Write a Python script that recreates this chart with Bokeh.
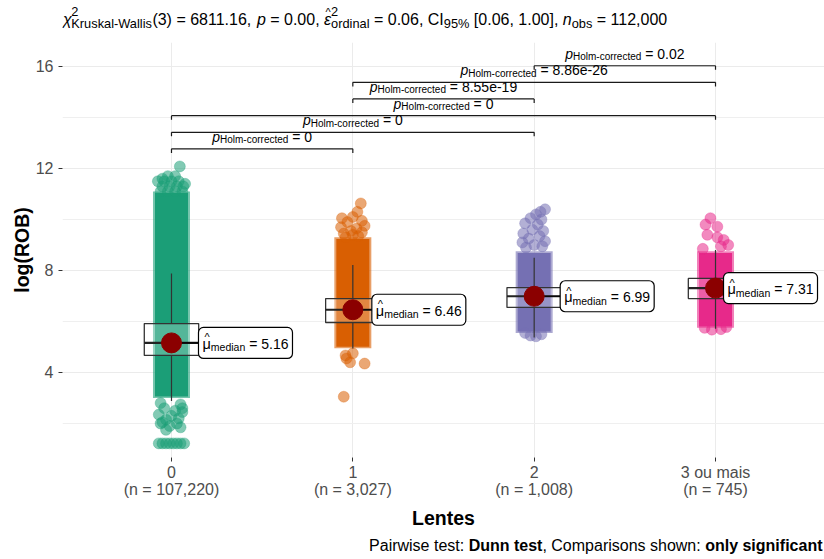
from bokeh.plotting import figure
from bokeh.layouts import column
from bokeh.models import Label, FixedTicker
from bokeh.embed import file_html
from bokeh.resources import INLINE

# ---------------- data ----------------
groups = ["0", "1", "2", "3 ou mais"]
n_obs = ["107,220", "3,027", "1,008", "745"]
colors = ["#1B9E77", "#D95F02", "#7570B3", "#E7298A"]
medians = [5.16, 6.46, 6.99, 7.31]
median_txt = ["5.16", "6.46", "6.99", "7.31"]
q1 = [4.67, 5.96, 6.55, 6.90]
q3 = [5.92, 6.90, 7.33, 7.69]
whisker_lo = [2.88, 4.94, 5.37, 5.72]
whisker_hi = [7.88, 8.22, 8.50, 8.80]
dense_lo = [3.0, 4.95, 5.55, 5.75]
dense_hi = [11.1, 9.3, 8.75, 8.75]

g0_jit = [0.046, -0.06, -0.02, 0.02, 0.06, -0.05, -0.01, 0.03, 0.065, -0.075, -0.04, 0.0,
          0.04, -0.02, 0.02, -0.05, 0.075,
          -0.06, 0.05, -0.04, 0.02, 0.06, -0.07, 0.00, 0.04, -0.03, -0.05, 0.03,
          -0.01, 0.05, -0.03, 0.06, -0.06,
          -0.07, -0.05, -0.03, -0.01, 0.01, 0.03, 0.05, 0.07]
g0_y = [12.08, 11.1, 11.1, 11.1, 11.1, 11.3, 11.3, 11.3, 11.3, 11.5, 11.5, 11.5,
        11.5, 11.7, 11.7, 11.6, 11.4,
        2.8, 2.75, 2.6, 2.5, 2.45, 2.35, 2.3, 2.2, 2.15, 2.05, 2.0,
        1.9, 1.85, 1.75, 2.6, 2.0,
        1.22, 1.22, 1.22, 1.22, 1.22, 1.22, 1.22, 1.22]
g1_jit = [0.044, 0.025, -0.06, 0.0, 0.05, -0.03, 0.065, -0.065, 0.02, -0.01, 0.05, -0.05,
          0.03, -0.04, 0.0,
          -0.04, -0.015, 0.065, -0.035, 0.0, -0.05]
g1_y = [10.63, 10.3, 10.05, 10.1, 9.95, 9.9, 9.75, 9.7, 9.65, 9.55, 9.5, 9.45,
        9.35, 9.3, 9.4,
        4.67, 4.4, 4.35, 4.55, 4.75, 3.05]
g2_jit = [0.06, 0.035, 0.01, -0.02, 0.04, -0.05, 0.02, -0.01, 0.05, -0.06, 0.03, -0.03,
          0.06, -0.065, 0.0, 0.045, -0.045, -0.02, 0.01, 0.04, -0.05]
g2_y = [10.4, 10.3, 10.2, 10.05, 10.0, 9.85, 9.8, 9.6, 9.55, 9.45, 9.35, 9.25,
        9.15, 9.1, 9.0, 8.95, 8.9, 5.45, 5.42, 5.5, 5.55]
g3_jit = [-0.028, -0.055, 0.01, -0.045, 0.01, 0.045, 0.07, -0.07, 0.03,
          -0.06, -0.02, 0.03, 0.06]
g3_y = [10.05, 9.8, 9.72, 9.4, 9.3, 9.2, 9.0, 8.85, 8.95,
        5.75, 5.68, 5.7, 5.78]
sparse_jit = [g0_jit, g1_jit, g2_jit, g3_jit]
sparse_y = [g0_y, g1_y, g2_y, g3_y]

pair_from = [3, 2, 2, 1, 1, 1]
pair_to = [4, 4, 3, 4, 3, 2]
pair_y = [16.03, 15.38, 14.73, 14.07, 13.42, 12.77]
pair_p = ["0.02", "8.86e-26", "8.55e-19", "0", "0", "0"]

yticks = [4, 8, 12, 16]
yminor = [2, 6, 10, 14]

# ---------------- layout ----------------
FONT = "Liberation Sans"
PAGE_W = 824
TITLE_H, MAIN_BOTTOM, PAGE_H = 42, 533, 559
FL, FR, FT, FB = 62, 824, 42, 457        # frame edges in page pixels
X0, X1 = 0.399, 4.601
Y1 = 16.941
SX = (FR - FL) / (X1 - X0)
SY = 25.5
Y0 = Y1 - (FB - FT) / SY
BASE_FIX = -5   # baseline correction for Label text


def DX(px):
    return X0 + (px - FL) / SX


def DY(py):
    return Y1 - (py - FT) / SY


def PX(x):
    return FL + (x - X0) * SX


def PY(y):
    return FT + (Y1 - y) * SY


W = {' ': 278, '!': 278, '(': 333, ')': 333, ',': 278, '-': 333, '.': 278, ':': 278,
     '=': 584, '[': 278, ']': 278, '%': 889, '^': 469,
     'A': 667, 'B': 667, 'C': 722, 'D': 722, 'E': 667, 'H': 722, 'I': 278, 'K': 667,
     'L': 556, 'O': 778, 'P': 667, 'R': 722, 'W': 944,
     'a': 556, 'b': 556, 'c': 500, 'd': 556, 'e': 556, 'f': 278, 'g': 556, 'h': 556,
     'i': 222, 'k': 500, 'l': 222, 'm': 833, 'n': 556, 'o': 556, 'p': 556, 'r': 333,
     's': 500, 't': 278, 'u': 556, 'w': 722, 'y': 500,
     'χ': 520, 'ε': 440, 'μ': 576}
WB = {' ': 278, ',': 278, ':': 333, 'D': 722, 'a': 556, 'c': 556, 'e': 556, 'f': 333,
      'g': 611, 'i': 278, 'l': 278, 'n': 611, 'o': 611, 's': 556, 't': 333, 'u': 611,
      'y': 556}


def tw(text, size, bold=False):
    tab = WB if bold else W
    return sum(tab.get(c, 556) for c in text) * size / 1000.0


def runs(fig, fx, fy, x, base, items, align="left", color="black"):
    """items: (text, size, style, dy, advance, xoff); fx/fy map page px -> data."""
    total = sum(tw(t, s, "bold" in st) for t, s, st, dy, adv, xo in items if adv)
    if align == "center":
        x -= total / 2
    elif align == "right":
        x -= total
    cx = x
    for t, s, st, dy, adv, xo in items:
        bold = "bold" in st
        lead = len(t) - len(t.lstrip(" "))
        shown = t.strip(" ")
        fig.add_layout(Label(x=fx(cx + xo + tw(" " * lead, s, bold)),
                             y=fy(base + dy + BASE_FIX),
                             text=shown, text_font=FONT,
                             text_font_size=f"{s}px", text_font_style=st,
                             text_baseline="alphabetic", text_align="left",
                             text_color=color))
        if adv:
            cx += tw(t, s, bold)


def text_figure(top, bottom):
    # frame is aligned with the main plot's frame (x from FL to FR in page pixels)
    f = figure(width=PAGE_W, height=bottom - top, x_range=(FL, FR), y_range=(bottom, top),
               x_axis_type=None, y_axis_type=None, output_backend="svg",
               toolbar_location=None, title=None,
               min_border_left=FL, min_border_right=PAGE_W - FR,
               min_border_top=0, min_border_bottom=0)
    f.outline_line_color = None
    f.background_fill_color = "white"
    f.border_fill_color = "white"
    return f


ident = lambda v: v

# ---------------- title figure ----------------
pt = text_figure(0, TITLE_H)
M, S = 16, 12.8
runs(pt, ident, ident, 62.5, 24, [
    ("χ", M, "italic", 0, True, 0),
    ("2", S, "normal", -8, False, 0),
    ("Kruskal-Wallis", S, "normal", 4, True, 0),
    ("(3) = 6811.16, ", M, "normal", 0, True, 0),
    ("p", M, "italic", 0, True, 0),
    (" = 0.00, ", M, "normal", 0, True, 0),
    ("^", 11, "normal", -7.5, False, 1.5),
    ("ε", M, "italic", 0, True, 0),
    ("2", S, "normal", -8, False, 0),
    ("ordinal", S, "normal", 4, True, 0),
    (" = 0.06, CI", M, "normal", 0, True, 0),
    ("95%", S, "normal", 4, True, 0),
    (" [0.06, 1.00], ", M, "normal", 0, True, 0),
    ("n", M, "italic", 0, True, 0),
    ("obs", S, "normal", 4, True, 0),
    (" = 112,000", M, "normal", 0, True, 0),
])

# ---------------- main figure ----------------
p = figure(width=PAGE_W, height=MAIN_BOTTOM - TITLE_H, x_range=(X0, X1), y_range=(Y0, Y1),
           output_backend="svg", toolbar_location=None, title=None,
           min_border_left=FL, min_border_right=PAGE_W - FR,
           min_border_top=FT - TITLE_H, min_border_bottom=MAIN_BOTTOM - FB)
p.outline_line_color = None
p.background_fill_color = "white"
p.border_fill_color = "white"

p.xaxis.ticker = FixedTicker(ticks=[1, 2, 3, 4])
p.xaxis.major_label_overrides = {i + 1: f"{g}\n(n = {n})" for i, (g, n) in enumerate(zip(groups, n_obs))}
p.yaxis.ticker = FixedTicker(ticks=yticks, minor_ticks=yminor)
for ax in (p.xaxis[0], p.yaxis[0]):
    ax.axis_line_color = None
    ax.major_tick_line_color = "#333333"
    ax.major_tick_out = 4
    ax.major_tick_in = 0
    ax.minor_tick_out = 0
    ax.minor_tick_in = 0
    ax.major_label_text_font = FONT
    ax.major_label_text_font_size = "16px"
    ax.major_label_text_color = "#4D4D4D"
    ax.axis_label_text_font = FONT
    ax.axis_label_text_font_size = "19.5px"
    ax.axis_label_text_font_style = "bold"
    ax.axis_label_text_color = "black"
p.xaxis.axis_label = "Lentes"
p.yaxis.axis_label = "log(ROB)"
p.xaxis.major_label_text_line_height = 1.0
p.xaxis.major_label_standoff = 2
p.xaxis.axis_label_standoff = 6
p.yaxis.major_label_standoff = 5
p.yaxis.axis_label_standoff = 0

p.xgrid.grid_line_color = "#EBEBEB"
p.ygrid.grid_line_color = "#EBEBEB"
p.ygrid.grid_line_width = 1.2
p.ygrid.minor_grid_line_color = "#EFEFEF"
p.ygrid.minor_grid_line_width = 1

# point clouds
for i in range(4):
    xc = i + 1
    mid = (dense_lo[i] + dense_hi[i]) / 2
    p.rect(x=[xc], y=[mid], width=37, width_units="screen",
           height=[dense_hi[i] - dense_lo[i]], fill_color=colors[i], fill_alpha=0.6,
           line_color=None)
    p.rect(x=[xc], y=[mid], width=33, width_units="screen",
           height=[dense_hi[i] - dense_lo[i] - 0.12], fill_color=colors[i], fill_alpha=1.0,
           line_color=None)
    xs = [xc + j for j in sparse_jit[i]]
    p.scatter(xs, sparse_y[i], marker="circle", size=11, fill_color=colors[i],
              fill_alpha=0.55, line_color=colors[i], line_alpha=0.3)

# boxplots
for i in range(4):
    xc = i + 1
    p.segment(x0=[xc, xc], y0=[q3[i], whisker_lo[i]], x1=[xc, xc], y1=[whisker_hi[i], q1[i]],
              line_color="#333333", line_width=1.2)
    p.quad(left=[xc - 0.15], right=[xc + 0.15], bottom=[q1[i]], top=[q3[i]],
           fill_color="white", fill_alpha=0.25, line_color="#333333", line_width=1.3)
    p.segment(x0=[xc - 0.15], y0=[medians[i]], x1=[xc + 0.15], y1=[medians[i]],
              line_color="#222222", line_width=2.2)

# median labels
label_dx = [27, 19, 26, 8]
BOXW, BOXH = 94, 31
for i in range(4):
    xc = i + 1
    left = PX(xc) + label_dx[i]
    p.segment(x0=[xc], y0=[medians[i]], x1=[DX(left)], y1=[medians[i]],
              line_color="black", line_width=1.2)
    p.scatter([xc], [medians[i]], marker="circle", size=20, fill_color="#8B0000",
              line_color="#8B0000")
    p.rect(x=[DX(left + BOXW / 2)], y=[medians[i]], width=BOXW, height=BOXH,
           width_units="screen", height_units="screen", fill_color="white",
           line_color="black", line_width=1.2, border_radius=5)
    base = PY(medians[i]) + 6
    runs(p, DX, DY, left + 4, base, [
        ("^", 11, "normal", -6.5, False, 2),
        ("μ", 14.5, "normal", 0, True, 0),
        ("median", 10.5, "normal", 3.5, True, 0),
        (" = " + median_txt[i], 14, "normal", 0, True, 0),
    ])

# pairwise brackets
TIP = 0.16
for a, b, y, pv in zip(pair_from, pair_to, pair_y, pair_p):
    p.segment(x0=[a, a, b], y0=[y, y - TIP, y - TIP], x1=[b, a, b], y1=[y, y, y],
              line_color="#1a1a1a", line_width=1.2)
    runs(p, DX, DY, (PX(a) + PX(b)) / 2, PY(y) - 7, [
        ("p", 14, "italic", 0, True, 0),
        ("Holm-corrected", 10, "normal", 3, True, 0),
        (" = " + pv, 14, "normal", 0, True, 0),
    ], align="center")

# ---------------- caption figure ----------------
pc = text_figure(MAIN_BOTTOM, PAGE_H)
runs(pc, ident, ident, 822, 550, [
    ("Pairwise test: ", 16, "normal", 0, True, 0),
    ("Dunn test", 16, "bold", 0, True, 0),
    (", Comparisons shown: ", 16, "normal", 0, True, 0),
    ("only significant", 16, "bold", 0, True, 0),
], align="right")

layout = column(pt, p, pc, spacing=0)
open("out.html", "w").write(file_html(layout, INLINE))
